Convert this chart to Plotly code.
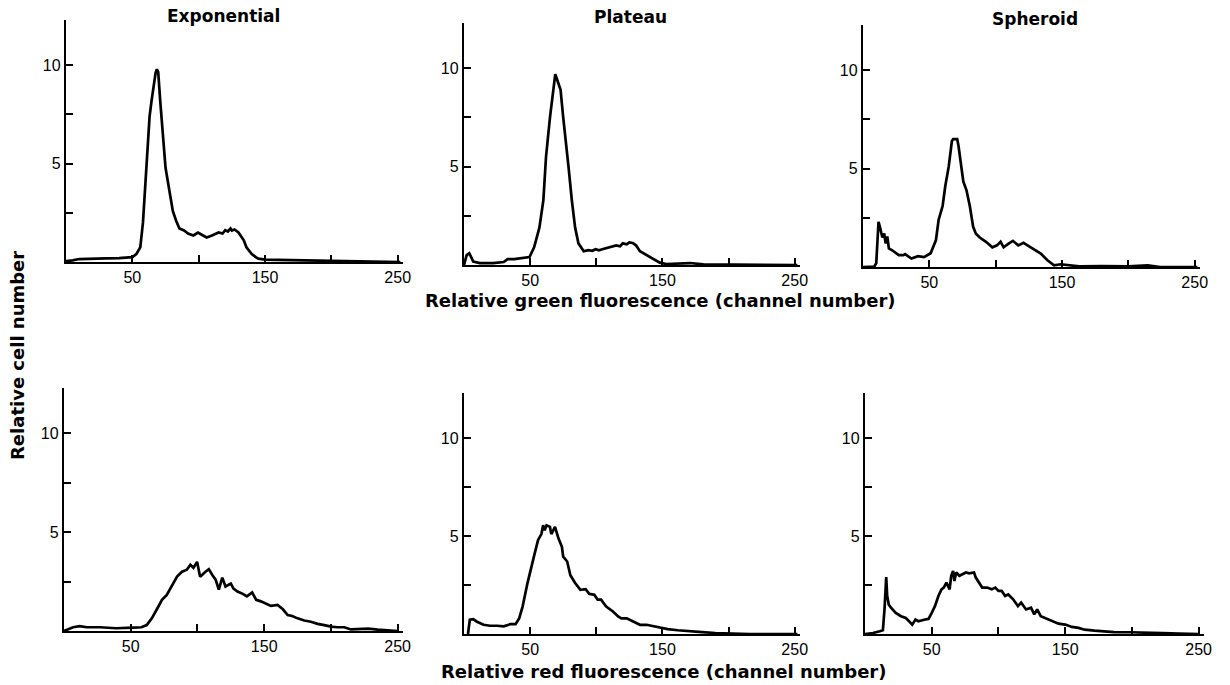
import plotly.graph_objects as go

# ---- data (channel, relative cell number) ----
exp_green_x = [0, 5, 10, 20, 30, 40, 50, 53, 56, 58, 60, 61.5, 63, 64.5, 66, 67.5, 68.5, 69.5, 71, 73, 75, 78, 80.5, 83, 85.5, 89, 92, 96, 99.5, 102, 106, 110, 115, 118, 120, 122, 124, 125, 127, 130, 132, 134, 136, 138, 140, 143, 145, 150, 160, 180, 200, 220, 240, 252]
exp_green_y = [0.05, 0.08, 0.15, 0.15, 0.18, 0.2, 0.25, 0.4, 0.75, 2.0, 4.2, 6.0, 7.4, 8.2, 9.0, 9.6, 9.8, 9.65, 8.2, 6.5, 4.8, 3.6, 2.6, 2.1, 1.7, 1.6, 1.45, 1.35, 1.5, 1.4, 1.25, 1.35, 1.5, 1.45, 1.62, 1.55, 1.7, 1.6, 1.65, 1.5, 1.3, 1.1, 0.75, 0.55, 0.4, 0.25, 0.17, 0.12, 0.1, 0.08, 0.06, 0.05, 0.03, 0.0]

pla_green_x = [0, 1, 2, 4, 7, 12, 22, 30, 33, 38, 43, 49.5, 53, 57, 60, 62, 65, 67.5, 69, 71, 73, 75, 77, 79, 81.5, 84, 86.5, 90.5, 94, 97, 99.5, 102, 104.5, 107, 110, 113, 115, 118, 120, 123, 125, 127.5, 130, 133, 138, 143, 148, 153, 163, 171, 181, 202, 215, 230, 252]
pla_green_y = [0.0, 0.2, 0.5, 0.6, 0.17, 0.1, 0.1, 0.15, 0.3, 0.3, 0.35, 0.4, 0.9, 1.9, 3.3, 5.5, 7.5, 9.1, 9.7, 9.3, 8.9, 7.5, 6.4, 5.0, 3.3, 1.9, 1.1, 0.7, 0.75, 0.72, 0.8, 0.75, 0.8, 0.85, 0.9, 0.95, 1.0, 0.95, 1.1, 1.05, 1.15, 1.12, 1.0, 0.7, 0.5, 0.3, 0.12, 0.05, 0.08, 0.1, 0.03, 0.02, 0.0, 0.0, 0.0]

sph_green_x = [0, 8.5, 10, 11.7, 12.7, 14.6, 16, 17, 18.3, 19.5, 22, 27, 30.5, 31.7, 36.5, 41.5, 46, 51, 55, 57, 60, 62, 64.6, 66, 67, 68, 71, 72, 73.7, 75.6, 78, 80.5, 83, 85, 88, 92.7, 97.5, 101, 103.7, 106, 110, 113, 117, 121, 124, 129, 134, 139, 144, 149, 156, 163, 180, 200, 214.6, 224, 252]
sph_green_y = [0.0, 0.02, 0.2, 2.3, 2.05, 1.5, 1.7, 1.2, 1.55, 0.95, 0.85, 0.6, 0.6, 0.65, 0.43, 0.55, 0.5, 0.7, 1.37, 2.4, 3.1, 4.1, 5.1, 5.8, 6.4, 6.5, 6.5, 6.15, 5.3, 4.35, 3.9, 3.1, 2.05, 1.7, 1.5, 1.28, 1.0, 1.1, 1.28, 1.0, 1.2, 1.33, 1.1, 1.23, 1.1, 0.9, 0.68, 0.34, 0.09, 0.14, 0.1, 0.03, 0.04, 0.03, 0.08, 0.0, 0.0]

exp_red_x = [0, 6.8, 11.8, 17, 27, 39, 52, 58, 62, 65.8, 69.6, 73.4, 77, 81, 84.7, 88.4, 92, 94.7, 97, 99.7, 102, 106, 108.5, 111, 113.6, 116, 118.6, 121, 125, 127, 130, 134, 137, 141, 144, 147.5, 151, 155, 160, 164, 167.6, 171, 175, 180, 185, 190, 195, 200, 205, 210, 215, 223, 228, 235, 243, 250]
exp_red_y = [0.0, 0.19, 0.25, 0.19, 0.19, 0.14, 0.17, 0.19, 0.3, 0.64, 1.1, 1.58, 1.83, 2.34, 2.76, 3.0, 3.1, 3.35, 3.2, 3.5, 2.75, 3.0, 3.13, 2.85, 2.6, 2.1, 2.7, 2.25, 2.4, 2.15, 2.0, 1.88, 1.75, 1.95, 1.58, 1.5, 1.4, 1.27, 1.32, 1.1, 0.81, 0.76, 0.64, 0.53, 0.47, 0.36, 0.3, 0.22, 0.19, 0.19, 0.08, 0.12, 0.12, 0.07, 0.03, 0.0]

pla_red_x = [3, 4.4, 7, 9.5, 14.7, 19.8, 25, 30, 35, 39, 41.7, 44.3, 48, 50.8, 53.4, 56, 58.5, 59.8, 61, 62.4, 65, 66, 68.8, 71.4, 74, 75, 78, 80.4, 84, 88, 92, 94.6, 98.5, 101, 103.6, 107.5, 112.6, 116.5, 119, 123, 128, 133, 138, 143.6, 148.7, 154, 161.6, 169, 180, 190, 205, 216, 252]
pla_red_y = [0.0, 0.73, 0.76, 0.64, 0.47, 0.42, 0.42, 0.39, 0.5, 0.5, 0.8, 1.4, 2.6, 3.44, 4.1, 4.8, 5.1, 5.55, 5.3, 5.55, 5.47, 5.1, 5.47, 4.88, 4.45, 3.95, 3.7, 3.0, 2.6, 2.25, 2.29, 2.05, 2.0, 1.75, 1.75, 1.4, 1.15, 0.9, 0.8, 0.8, 0.64, 0.47, 0.47, 0.39, 0.3, 0.25, 0.19, 0.14, 0.1, 0.05, 0.03, 0.0, 0.0]

sph_red_x = [0, 6, 11, 13.4, 14.6, 15.9, 16.6, 17.8, 19.5, 23, 27, 30.5, 33, 35.4, 37.8, 40, 45, 47.6, 50, 52.4, 55, 57.3, 59, 61, 63.4, 64.6, 66, 67, 68.3, 70.7, 73, 75.6, 78, 80.5, 81.7, 83, 85.4, 87.8, 91.5, 95, 97.6, 100, 102.4, 105, 107.3, 111, 114.6, 117, 120.7, 124.4, 126.8, 129, 131.7, 135, 140, 145, 150, 155, 160, 164.6, 172, 179, 186.6, 199, 211, 223, 235, 243, 250]
sph_red_y = [0.0, 0.05, 0.14, 0.19, 1.25, 2.9, 1.95, 1.5, 1.34, 1.08, 0.91, 0.82, 0.65, 0.48, 0.74, 0.65, 0.74, 0.77, 1.08, 1.42, 1.94, 2.28, 2.37, 2.62, 2.28, 2.97, 3.22, 2.7, 3.14, 2.97, 3.05, 3.14, 3.1, 3.14, 3.14, 2.88, 2.62, 2.37, 2.37, 2.28, 2.37, 2.2, 2.2, 1.94, 2.02, 1.77, 1.42, 1.6, 1.25, 1.34, 1.0, 1.25, 0.91, 0.82, 0.65, 0.53, 0.48, 0.36, 0.31, 0.22, 0.17, 0.14, 0.1, 0.09, 0.05, 0.04, 0.02, 0.0, 0.0]

panel_titles = ["Exponential", "Plateau", "Spheroid"]
x_tickvals = [50, 100, 150, 200, 250]
x_ticktext = ["50", "", "150", "", "250"]
y_tickvals = [2.5, 5, 7.5, 10]
y_ticktext = ["", "5", "", "10"]
green_title = "Relative green fluorescence (channel number)"
red_title = "Relative red fluorescence (channel number)"
y_title = "Relative cell number"

series = [
    (exp_green_x, exp_green_y), (pla_green_x, pla_green_y), (sph_green_x, sph_green_y),
    (exp_red_x, exp_red_y), (pla_red_x, pla_red_y), (sph_red_x, sph_red_y),
]

W, H = 1230, 685
# pixel boxes: (left, right, top, bottom) of each axes
boxes = [
    (66, 403, 20, 262), (464, 800, 23, 265), (863, 1200, 25, 267),
    (64, 403, 388, 631), (464, 800, 393, 634), (865, 1204, 393, 634),
]

TICKFONT = "Liberation Sans, Arial, Helvetica, sans-serif"
TITLEFONT = "DejaVu Sans, Verdana, sans-serif"
fig = go.Figure()
for i, ((xs, ys), (l, r, t, b)) in enumerate(zip(series, boxes)):
    n = i + 1
    xa = "x" if n == 1 else f"x{n}"
    ya = "y" if n == 1 else f"y{n}"
    fig.add_trace(go.Scatter(x=xs, y=ys, mode="lines", xaxis=xa, yaxis=ya,
                             line=dict(color="black", width=2.7), showlegend=False,
                             hoverinfo="skip"))
    common = dict(showgrid=False, zeroline=False, showline=True, linecolor="black",
                  linewidth=2.4, ticks="inside", ticklen=7, tickwidth=2.4, tickcolor="black",
                  automargin=False, fixedrange=True,
                  tickfont=dict(family=TICKFONT, size=16, color="black"))
    fig.layout[f"xaxis{'' if n == 1 else n}"] = dict(
        domain=[l / W, r / W], range=[0, 254], anchor=ya,
        tickmode="array", tickvals=x_tickvals, ticktext=x_ticktext,
        ticklabelstandoff=0, **common)
    fig.layout[f"yaxis{'' if n == 1 else n}"] = dict(
        domain=[(H - b) / H, (H - t) / H], range=[0, 12.3], anchor=xa,
        tickmode="array", tickvals=y_tickvals, ticktext=y_ticktext,
        ticklabelstandoff=0, **common)

annotations = []
title_pos = [(223, 16), (630, 17), (1035, 19)]
for txt, (px, py) in zip(panel_titles, title_pos):
    annotations.append(dict(text=f"<b>{txt}</b>", x=px / W, y=1 - py / H, xref="paper", yref="paper",
                            showarrow=False, xanchor="center", yanchor="middle",
                            font=dict(family=TITLEFONT, size=17, color="black")))
annotations.append(dict(text=f"<b>{green_title}</b>", x=660 / W, y=1 - 300 / H, xref="paper", yref="paper",
                        showarrow=False, xanchor="center", yanchor="middle",
                        font=dict(family=TITLEFONT, size=18, color="black")))
annotations.append(dict(text=f"<b>{red_title}</b>", x=663 / W, y=1 - 671 / H, xref="paper", yref="paper",
                        showarrow=False, xanchor="center", yanchor="middle",
                        font=dict(family=TITLEFONT, size=18, color="black")))
annotations.append(dict(text=f"<b>{y_title}</b>", x=17 / W, y=1 - 356 / H, xref="paper", yref="paper",
                        showarrow=False, xanchor="center", yanchor="middle", textangle=-90,
                        font=dict(family=TITLEFONT, size=18, color="black")))

fig.update_layout(width=W, height=H, margin=dict(l=0, r=0, t=0, b=0),
                  paper_bgcolor="white", plot_bgcolor="white", annotations=annotations,
                  showlegend=False)
fig.write_html("out.html", config={"displayModeBar": False},
               post_script="document.body.style.margin='0';document.body.style.padding='0';")
